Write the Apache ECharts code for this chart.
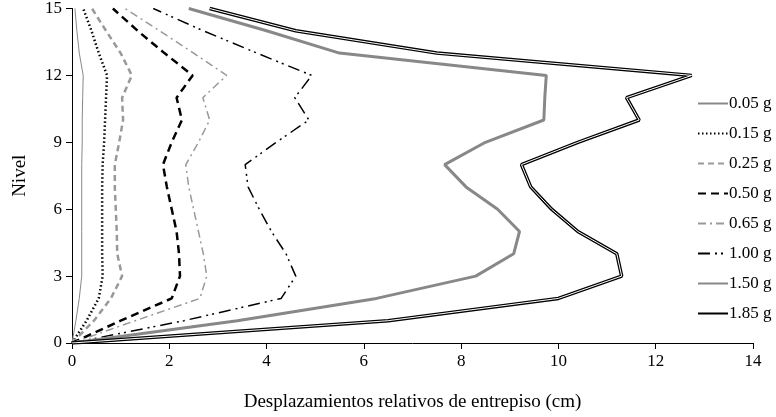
<!DOCTYPE html>
<html>
<head>
<meta charset="utf-8">
<script src="https://cdn.jsdelivr.net/npm/echarts@6/dist/echarts.min.js"></script>
<style>html,body{margin:0;padding:0;background:#fff}#c{width:776px;height:417px}</style>
</head>
<body>
<div id="c"></div>
<script>
var levels = [0, 1, 2, 3, 4, 5, 6, 7, 8, 9, 10, 11, 12, 13, 14, 15];
var names = ['0.05 g', '0.15 g', '0.25 g', '0.50 g', '0.65 g', '1.00 g', '1.50 g', '1.85 g'];
var d005 = [0, 0.08, 0.15, 0.2, 0.2, 0.2, 0.2, 0.2, 0.2, 0.21, 0.21, 0.22, 0.23, 0.15, 0.1, 0.06];
var d015 = [0, 0.3, 0.55, 0.63, 0.62, 0.62, 0.62, 0.62, 0.63, 0.66, 0.68, 0.7, 0.72, 0.55, 0.4, 0.23];
var d025 = [0, 0.45, 0.8, 1.03, 0.93, 0.92, 0.9, 0.88, 0.88, 0.97, 1.05, 1.03, 1.23, 1.0, 0.7, 0.41];
var d050 = [0, 1.0, 2.05, 2.22, 2.2, 2.15, 2.05, 1.95, 1.87, 2.05, 2.26, 2.15, 2.48, 1.9, 1.35, 0.84];
var d065 = [0, 1.3, 2.63, 2.77, 2.7, 2.6, 2.5, 2.4, 2.34, 2.6, 2.83, 2.69, 3.18, 2.5, 1.8, 1.09];
var d100 = [0, 2.3, 4.3, 4.6, 4.4, 4.1, 3.85, 3.62, 3.56, 4.2, 4.87, 4.58, 4.93, 3.8, 2.7, 1.67];
var d150 = [0, 3.4, 6.26, 8.3, 9.08, 9.2, 8.75, 8.1, 7.66, 8.5, 9.7, 9.72, 9.75, 5.5, 4.0, 2.4];
var d185 = [0, 6.5, 10.0, 11.3, 11.2, 10.4, 9.86, 9.43, 9.24, 10.4, 11.66, 11.4, 12.74, 7.5, 4.6, 2.83];

function pts(vals) {
  return vals.map(function(v, i) { return [v, levels[i]]; });
}
var styles = [
  {color: '#888', width: 1, type: 'solid'},
  {color: '#000', width: 2.5, type: [1.5, 2.5]},
  {color: '#999', width: 2.5, type: [6, 4]},
  {color: '#000', width: 2.5, type: [8, 5]},
  {color: '#999', width: 1.5, type: [8, 4, 2, 4]},
  {color: '#000', width: 1.5, type: [12, 5, 2, 4, 2, 5]},
  {color: '#888', width: 3, type: 'solid'},
  {color: '#000', width: 3.5, type: 'solid'}
];
var all = [d005, d015, d025, d050, d065, d100, d150, d185];
var series = all.map(function(d, i) {
  return {
    name: names[i], type: 'line', data: pts(d), symbol: 'none',
    lineStyle: styles[i], itemStyle: {color: styles[i].color}
  };
});
series.push({
  name: 'inner', type: 'line', data: pts(d185), symbol: 'none', silent: true,
  lineStyle: {color: '#fff', width: 1}
});

var chart = echarts.init(document.getElementById('c'));
var font = 'Liberation Serif';
chart.setOption({
  animation: false,
  textStyle: {fontFamily: font},
  grid: {left: 72, right: 23, top: 8, bottom: 69},
  legend: {
    data: names, orient: 'vertical', left: 692, top: 90, itemGap: 13,
    itemWidth: 30, itemHeight: 18, itemStyle: {opacity: 0},
    textStyle: {fontFamily: font, fontSize: 17, color: '#000', padding: [0, 0, 0, -4]}
  },
  xAxis: {
    type: 'value', min: 0, max: 14, interval: 2,
    name: 'Desplazamientos relativos de entrepiso (cm)', nameLocation: 'middle', nameGap: 50,
    nameTextStyle: {fontFamily: font, fontSize: 19, color: '#000'},
    axisLine: {lineStyle: {color: '#000'}},
    axisTick: {show: true, length: 6, lineStyle: {color: '#000'}},
    axisLabel: {fontFamily: font, fontSize: 17, color: '#000', margin: 10},
    splitLine: {show: false}
  },
  yAxis: {
    type: 'value', min: 0, max: 15, interval: 3,
    name: 'Nivel', nameLocation: 'middle', nameGap: 42, nameRotate: 90,
    nameTextStyle: {fontFamily: font, fontSize: 19, color: '#000'},
    axisLine: {show: true, lineStyle: {color: '#000'}},
    axisTick: {show: true, length: 6, lineStyle: {color: '#000'}},
    axisLabel: {fontFamily: font, fontSize: 17, color: '#000', margin: 10},
    splitLine: {show: false}
  },
  series: series
});
</script>
</body>
</html>
